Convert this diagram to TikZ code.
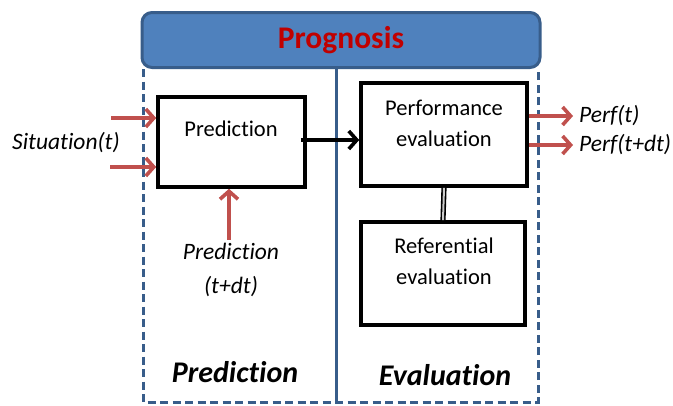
\documentclass[tikz,border=0pt]{standalone}
\usepackage{fontspec}
\setmainfont{Carlito}[Ligatures=NoCommon]
\usepackage{tikz}
\usetikzlibrary{arrows.meta}
\definecolor{bannerblue}{HTML}{4F81BD}
\definecolor{darkblue}{HTML}{385D8A}
\definecolor{prognored}{HTML}{C00000}
\definecolor{arrowred}{HTML}{C0504D}

\begin{document}
\begin{tikzpicture}[x=1pt,y=-1pt,
  box/.style={draw=black, line width=3.6pt, minimum width=147pt, minimum height=90pt, inner sep=0pt},
  boxtext/.style={font=\fontsize{22.5}{31}\selectfont, align=center, inner sep=0pt},
  labeltext/.style={font=\fontsize{23.5}{34}\selectfont\itshape, align=center, inner sep=0pt},
  redarrow/.style={draw=arrowred, line width=3.6pt, -{Straight Barb[length=8pt,width=18pt]}},
  frameline/.style={draw=darkblue, line width=3pt}]
  \useasboundingbox (0,0) rectangle (673,405);
  % Banner
  \node[draw=darkblue, fill=bannerblue, line width=3pt, rounded corners=10pt,
    minimum width=398pt, minimum height=55pt, inner sep=0pt,
    text=prognored, font=\fontsize{31.5}{34}\selectfont\bfseries] (prog) at (341,40) {Prognosis};
  % Frame
  \coordinate (fbl) at (143,402);
  \coordinate (fbr) at (538,402);
  \draw[frameline, dash pattern=on 8pt off 4.5pt] (prog.south west -| fbl) -- (fbl) -- (fbr) -- (prog.south east -| fbr);
  \coordinate (mid) at (336,402);
  \draw[frameline] (prog.south -| mid) -- (mid);
  % Boxes
  \node[box] (pred) at (231.5,142) {};
  \node[boxtext] (predtxt) at (231,129) {Prediction};
  \node[box, minimum width=166pt, minimum height=103pt] (perf) at (444,134.5) {};
  \node[boxtext] (perftxt) at (444,123) {Performance\\evaluation};
  \node[box, minimum width=164pt, minimum height=103pt] (ref) at (443,273.5) {};
  \node[boxtext] (reftxt) at (444,261.5) {Referential\\evaluation};
  % Connectors
  \coordinate (link) at (0,140);
  \draw[line width=3.6pt, -{Straight Barb[length=8pt,width=18pt]}] ([xshift=-6pt]pred.east |- link) -- (perf.west |- link);
  \draw[line width=1.6pt, double=gray!40, double distance=2pt] (perf.south) -- (ref.north);
  % Inputs
  \coordinate (sitA) at (111,118);
  \coordinate (sitB) at (110,167);
  \draw[redarrow] (sitA) -- (sitA -| pred.west);
  \draw[redarrow] (sitB) -- (sitB -| pred.west);
  \node[labeltext, anchor=west] (sit) at (12,143) {Situation(t)};
  \coordinate (predin) at (229,240);
  \draw[redarrow] (predin) -- (predin |- pred.south);
  \node[labeltext] (predlab) at (231,270) {Prediction\\(t+dt)};
  % Outputs
  \coordinate (outA) at (573,116);
  \coordinate (outB) at (573,145);
  \draw[redarrow] (outA -| perf.east) -- (outA);
  \draw[redarrow] (outB -| perf.east) -- (outB);
  \node[labeltext, anchor=west] (perfA) at (579,116) {Perf(t)};
  \node[labeltext, anchor=west] (perfB) at (579,145) {Perf(t+dt)};
  % Column titles
  \node[font=\fontsize{30}{34}\selectfont\bfseries\itshape] (predcol) at (235,372) {Prediction};
  \node[font=\fontsize{30}{34}\selectfont\bfseries\itshape] (evalcol) at (445,375) {Evaluation};
\end{tikzpicture}
\end{document}
